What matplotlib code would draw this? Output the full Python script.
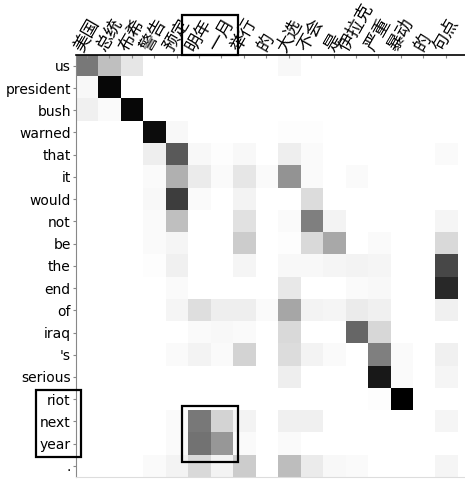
import numpy as np
import matplotlib
matplotlib.use("Agg")
import matplotlib.pyplot as plt
from matplotlib.patches import Rectangle

# source (Chinese) words on top, target (English) words on the left
src_words = ["美国", "总统", "布希", "警告", "预定", "明年", "一月", "举行", "的",
             "大选", "不会", "是", "伊拉克", "严重", "暴动", "的", "句点"]
tgt_words = ["us", "president", "bush", "warned", "that", "it", "would", "not",
             "be", "the", "end", "of", "iraq", "'s", "serious", "riot", "next",
             "year", "."]

# attention weights, one row per target word
attention = [
  [0.53, 0.25, 0.10, 0, 0, 0, 0, 0, 0, 0.03, 0, 0, 0, 0, 0, 0, 0],
  [0.03, 0.97, 0, 0, 0, 0, 0, 0, 0, 0, 0, 0, 0, 0, 0, 0, 0],
  [0.06, 0.02, 0.97, 0, 0, 0, 0, 0, 0, 0, 0, 0, 0, 0, 0, 0, 0],
  [0, 0, 0, 0.95, 0.03, 0, 0, 0, 0, 0.01, 0.01, 0, 0, 0, 0, 0, 0],
  [0, 0, 0, 0.07, 0.65, 0.03, 0.01, 0.03, 0, 0.07, 0.02, 0, 0, 0, 0, 0, 0.02],
  [0, 0, 0, 0.02, 0.31, 0.08, 0.02, 0.10, 0.02, 0.42, 0.02, 0, 0.02, 0, 0, 0, 0],
  [0, 0, 0, 0.03, 0.76, 0.02, 0, 0.05, 0, 0, 0.14, 0, 0, 0, 0, 0, 0],
  [0, 0, 0, 0.02, 0.25, 0, 0, 0.12, 0, 0.02, 0.50, 0.05, 0, 0, 0, 0, 0.04],
  [0, 0, 0, 0.02, 0.04, 0, 0, 0.20, 0, 0.01, 0.15, 0.34, 0, 0.02, 0, 0, 0.15],
  [0, 0, 0, 0.01, 0.06, 0, 0, 0.04, 0, 0.03, 0.03, 0.04, 0.05, 0.04, 0, 0, 0.72],
  [0, 0, 0, 0, 0.02, 0, 0, 0, 0, 0.09, 0, 0, 0.02, 0.03, 0, 0, 0.84],
  [0, 0, 0, 0, 0.04, 0.13, 0.07, 0.07, 0.02, 0.35, 0.05, 0.04, 0.08, 0.06, 0, 0, 0.06],
  [0, 0, 0, 0, 0, 0.02, 0.03, 0.02, 0, 0.15, 0, 0, 0.60, 0.16, 0, 0, 0],
  [0, 0, 0, 0, 0.02, 0.05, 0.02, 0.17, 0, 0.14, 0.05, 0.02, 0, 0.50, 0.02, 0, 0.06],
  [0, 0, 0, 0, 0, 0, 0, 0, 0, 0.07, 0, 0, 0, 0.90, 0.02, 0, 0.04],
  [0, 0, 0, 0, 0, 0, 0, 0, 0, 0, 0, 0, 0, 0.01, 1.00, 0, 0],
  [0, 0, 0, 0, 0.02, 0.53, 0.17, 0.05, 0, 0.06, 0.06, 0, 0, 0, 0, 0, 0.04],
  [0, 0, 0, 0, 0.02, 0.55, 0.41, 0.02, 0, 0.02, 0, 0, 0, 0, 0, 0, 0],
  [0, 0, 0, 0.02, 0.05, 0.15, 0.05, 0.20, 0, 0.26, 0.08, 0.03, 0.02, 0, 0, 0, 0.04],
]

fig = plt.figure(figsize=(4.65, 4.79), dpi=100)
ax = fig.add_axes([0.1628, 0.0042, 0.8372, 0.8816])

ax.imshow(np.array(attention), cmap="gray_r", vmin=0, vmax=1,
          interpolation="nearest", aspect="auto")
ax.set_xlim(-0.5, len(src_words) - 0.14)
ax.set_ylim(len(tgt_words) - 0.5, -0.5)

ax.xaxis.tick_top()
ax.set_xticks(range(len(src_words)))
ax.set_xticklabels(src_words, rotation=60, fontsize=12.5,
                   family=["Noto Sans CJK SC", "DejaVu Sans"])
ax.set_yticks(range(len(tgt_words)))
ax.set_yticklabels(tgt_words, fontsize=10, family="DejaVu Sans")
ax.tick_params(axis="x", direction="in", length=2, pad=0, color="#888888")
ax.tick_params(axis="y", length=2.5, pad=1, color="#888888")

ax.spines["top"].set_color("black")
ax.spines["top"].set_linewidth(1.2)
ax.spines["left"].set_color("#888888")
ax.spines["bottom"].set_color("#dddddd")
ax.spines["right"].set_visible(False)

# highlight boxes: source label, attention block, target labels
for (x0, y0, w, h) in [(4.25, -2.29, 2.5, 1.8),
                       (4.25, 15.31, 2.5, 2.51),
                       (-2.27, 14.59, 2.02, 3.01)]:
  ax.add_patch(Rectangle((x0, y0), w, h, fill=False, edgecolor="black",
                         linewidth=1.6, clip_on=False, zorder=5))

plt.savefig("out.png", dpi=100)
plt.close()
